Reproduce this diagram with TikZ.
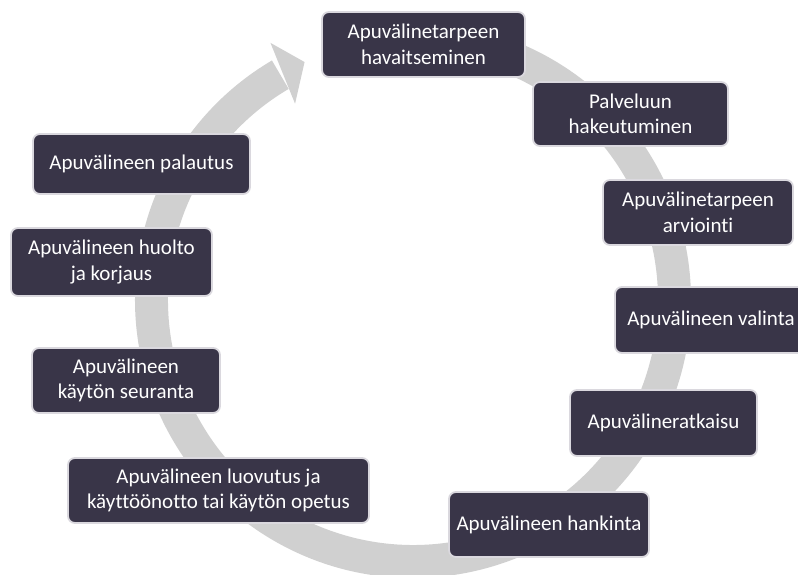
\documentclass[tikz,border=0pt]{standalone}
\usepackage{fontspec}
\setmainfont[Ligatures={NoCommon}]{Carlito}
\usetikzlibrary{calc}
\definecolor{boxfill}{RGB}{57,53,72}
\definecolor{boxline}{RGB}{218,216,222}
\definecolor{ringgray}{RGB}{208,208,208}
\tikzset{
  stepbox/.style={draw=boxline, line width=1.8pt, fill=boxfill, rounded corners=7pt,
    text=white, align=center, inner sep=2pt,
    font=\fontsize{21}{25.5}\selectfont},
  ring/.style={fill=ringgray, draw=none}
}
\begin{document}
\begin{tikzpicture}[x=1pt,y=1pt]
\useasboundingbox (0,0) rectangle (798,574);
\fill[white] (0,0) rectangle (798,574);
\coordinate (C) at (413,274);
% circular arrow
\fill[ring] ($(C)+(100:278)$) arc[start angle=100, end angle=-239.5, radius=278pt]
  -- ($(C)+(120.5:245)$) arc[start angle=120.5, end angle=460, radius=245pt] -- cycle;
\fill[ring] ($(C)+(119:294)$) -- ($(C)+(114.5:261.5)$) -- ($(C)+(121:229)$) -- cycle;
% steps
\node[stepbox, minimum width=203, minimum height=65] (n1) at (423.5,529.5) {Apuvälinetarpeen\\havaitseminen};
\node[stepbox, minimum width=195, minimum height=64] (n2) at (630.5,460) {Palveluun\\hakeutuminen};
\node[stepbox, minimum width=190, minimum height=65] (n3) at (698,361.5) {Apuvälinetarpeen\\arviointi};
\node[stepbox, minimum width=192, minimum height=66] (n4) at (711,254) {Apuvälineen valinta};
\node[stepbox, minimum width=187, minimum height=66] (n5) at (663.5,151) {Apuvälineratkaisu};
\node[stepbox, minimum width=200, minimum height=65] (n6) at (549,49.5) {Apuvälineen hankinta};
\node[stepbox, minimum width=301, minimum height=65] (n7) at (218.5,83.5) {Apuvälineen luovutus ja\\käyttöönotto tai käytön opetus};
\node[stepbox, minimum width=188, minimum height=65] (n8) at (126,193.5) {Apuvälineen\\käytön seuranta};
\node[stepbox, minimum width=201, minimum height=68] (n9) at (111.5,312) {Apuvälineen huolto\\ja korjaus};
\node[stepbox, minimum width=217, minimum height=60] (n10) at (141.5,410) {Apuvälineen palautus};
\end{tikzpicture}
\end{document}
